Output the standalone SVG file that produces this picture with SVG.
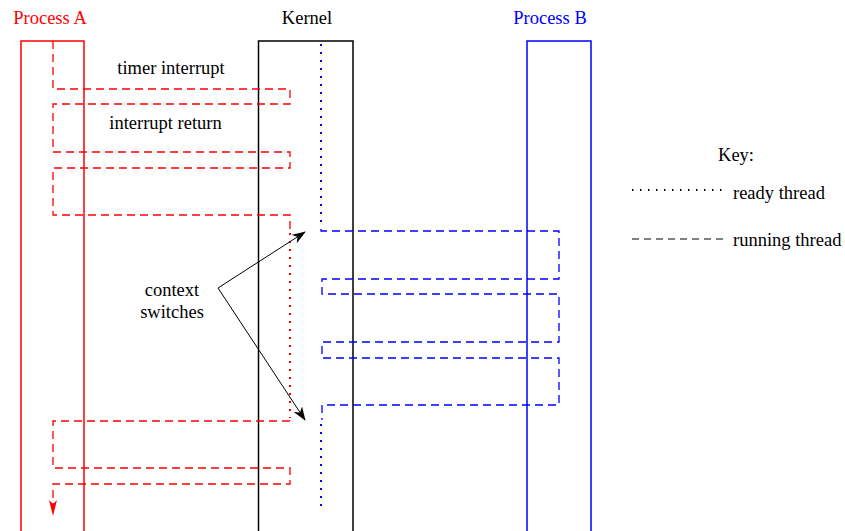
<svg xmlns="http://www.w3.org/2000/svg" width="845" height="531" viewBox="0 0 845 531">
<defs>
<marker id="ah" markerWidth="14" markerHeight="10" refX="13" refY="5" orient="auto" markerUnits="userSpaceOnUse">
<path d="M0,0 L14,5 L0,10 L4,5 Z" fill="#000"/>
</marker>
<marker id="ahr" markerWidth="8" markerHeight="16" refX="4" refY="15" orient="0" markerUnits="userSpaceOnUse">
<path d="M0,0 L4,4 L8,0 L4,16 Z" fill="#f00"/>
</marker>
</defs>
<style>
.box{fill:none;stroke-width:1.5}
.dash{fill:none;stroke-width:1.3;stroke-dasharray:8,5}
.dot{fill:none;stroke-width:2;stroke-dasharray:2,6}
text{font-family:"Liberation Serif","Times New Roman",serif;font-size:18.5px}
</style>
<g id="processA">
<rect class="box" x="21" y="41" width="63" height="500" stroke="#f00"/>
<text x="50" y="24" text-anchor="middle" fill="#f00">Process A</text>
</g>
<g id="kernel">
<rect class="box" x="258.5" y="41" width="94.5" height="500" stroke="#000" stroke-width="1.2"/>
<text x="307" y="24" text-anchor="middle">Kernel</text>
</g>
<g id="processB">
<rect class="box" x="527" y="41" width="64" height="500" stroke="#00f"/>
<text x="550" y="24" text-anchor="middle" fill="#00f">Process B</text>
</g>
<g id="labels">
<text x="171" y="74" text-anchor="middle">timer interrupt</text>
<text x="165.5" y="129" text-anchor="middle">interrupt return</text>
<text x="172" y="296" text-anchor="middle">context</text>
<text x="172" y="318" text-anchor="middle">switches</text>
</g>
<g id="key">
<text x="736" y="161" text-anchor="middle">Key:</text>
<line x1="632" y1="190" x2="722" y2="190" stroke="#000" stroke-width="2" stroke-dasharray="1.5,6.5"/>
<text x="733" y="199">ready thread</text>
<line x1="632" y1="239" x2="726" y2="239" stroke="#000" stroke-width="1" stroke-dasharray="7,5"/>
<text x="733" y="246">running thread</text>
</g>
<g id="connectors">
<path class="dash" stroke="#f00" d="M53,41 V89 H290 V104 H53 V152 H290 V168 H53 V215 H290 V230"/>
<line class="dot" stroke="#f00" x1="290" y1="233" x2="290" y2="418"/>
<path class="dash" stroke="#f00" d="M290,421 H53 V468 H290 V484 H53 V515" marker-end="url(#ahr)"/>
<line class="dot" stroke="#00f" x1="321" y1="44" x2="321" y2="228"/>
<path class="dash" stroke="#00f" d="M321,229 V231 H559 V279 H322 V294 H559 V342 H322 V358 H559 V405 H322 V420"/>
<line class="dot" stroke="#00f" x1="321" y1="424" x2="321" y2="511"/>
<line x1="218" y1="288" x2="305" y2="232" stroke="#000" stroke-width="1" marker-end="url(#ah)"/>
<line x1="218" y1="288" x2="305" y2="420" stroke="#000" stroke-width="1" marker-end="url(#ah)"/>
</g>
</svg>
